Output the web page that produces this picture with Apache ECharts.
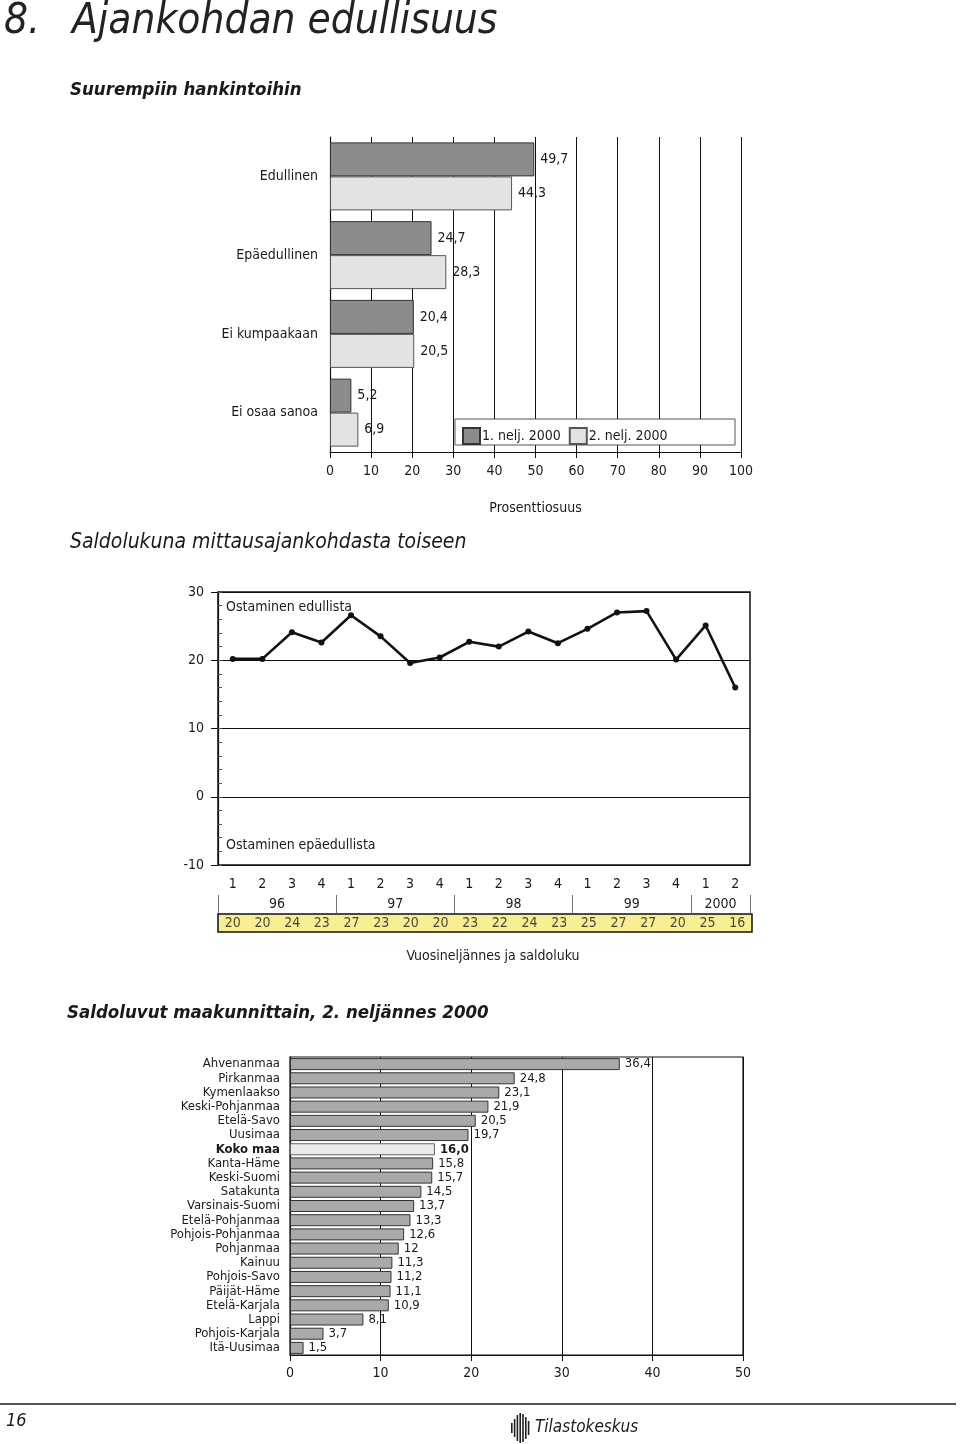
<!DOCTYPE html>
<html>
<head>
<meta charset="utf-8">
<script src="https://cdn.jsdelivr.net/npm/echarts@6/dist/echarts.min.js"></script>
<style>
html,body{margin:0;padding:0;background:#fff;}
#main{width:960px;height:1444px;}
</style>
</head>
<body>
<div id="main"></div>
<script>
// ---- Chart 1: Suurempiin hankintoihin ----
const answerCategories = ['Edullinen', 'Epäedullinen', 'Ei kumpaakaan', 'Ei osaa sanoa'];
const q1Values = [49.7, 24.7, 20.4, 5.2];
const q2Values = [44.3, 28.3, 20.5, 6.9];
const seriesNames = ['1. nelj. 2000', '2. nelj. 2000'];

// ---- Chart 2: Saldolukuna ----
const quarterLabels = ['1','2','3','4','1','2','3','4','1','2','3','4','1','2','3','4','1','2'];
const saldoLine = [20.2, 20.2, 24.1, 22.6, 26.6, 23.5, 19.6, 20.4, 22.7, 22.0, 24.2, 22.5, 24.6, 27.0, 27.2, 20.1, 25.1, 16.0];
const saldoTable = [20, 20, 24, 23, 27, 23, 20, 20, 23, 22, 24, 23, 25, 27, 27, 20, 25, 16];
const yearLabels = ['96', '97', '98', '99', '2000'];
const yearCenters = [2, 6, 10, 14, 17];
const yearBounds = [0, 4, 8, 12, 16, 18];

// ---- Chart 3: Saldoluvut maakunnittain ----
const regions = ['Ahvenanmaa','Pirkanmaa','Kymenlaakso','Keski-Pohjanmaa','Etelä-Savo','Uusimaa','Koko maa','Kanta-Häme','Keski-Suomi','Satakunta','Varsinais-Suomi','Etelä-Pohjanmaa','Pohjois-Pohjanmaa','Pohjanmaa','Kainuu','Pohjois-Savo','Päijät-Häme','Etelä-Karjala','Lappi','Pohjois-Karjala','Itä-Uusimaa'];
const regionValues = [36.4, 24.8, 23.1, 21.9, 20.5, 19.7, 16.0, 15.8, 15.7, 14.5, 13.7, 13.3, 12.6, 12, 11.3, 11.2, 11.1, 10.9, 8.1, 3.7, 1.5];

const FONT = "'Liberation Sans Narrow','DejaVu Sans Condensed',sans-serif";
const TXT = '#1a1a1a';
const fmt = v => String(v).replace('.', ',');

const chart = echarts.init(document.getElementById('main'), null, {renderer: 'canvas'});

function txt(text, x, y, size, opts) {
  opts = opts || {};
  return {
    type: 'text', x: x, y: y, z: opts.z || 5,
    style: {
      text: text, fontSize: size, fontFamily: FONT,
      fontWeight: opts.weight || 'normal', fontStyle: opts.style || 'normal',
      fill: opts.fill || TXT, align: opts.align || 'left', verticalAlign: 'middle'
    }
  };
}

// simple logo stripes
const logoStripes = [];
const stripeH = [10, 18, 26, 30, 28, 22, 14];
stripeH.forEach((h, i) => {
  logoStripes.push({type: 'rect', shape: {x: 511 + i * 2.8, y: 1428 - h / 2, width: 1.6, height: h}, style: {fill: '#222'}, z: 5});
});

const option = {
  backgroundColor: '#fff',
  animation: false,
  textStyle: {fontFamily: FONT, color: TXT},
  graphic: [
    txt('8.', 4, 22, 42, {style: 'italic', weight: 'lighter', fill: '#222'}),
    txt('Ajankohdan edullisuus', 72, 22, 42, {style: 'italic', weight: 'lighter', fill: '#222'}),
    txt('Suurempiin hankintoihin', 70, 90, 18.5, {style: 'italic', weight: 'bold'}),
    txt('Saldolukuna mittausajankohdasta toiseen', 70, 543, 21, {style: 'italic'}),
    txt('Saldoluvut maakunnittain, 2. neljännes 2000', 67, 1013, 18.5, {style: 'italic', weight: 'bold'}),
    txt('Ostaminen edullista', 226, 607, 14),
    txt('Ostaminen epäedullista', 226, 845, 14),
    txt('Vuosineljännes ja saldoluku', 493, 956, 14, {align: 'center'}),
    {type: 'rect', z: 3, shape: {x: 455, y: 419, width: 280, height: 26}, style: {fill: '#fff', stroke: '#555', lineWidth: 1}},
    {type: 'line', z: 5, shape: {x1: 0, y1: 1404, x2: 956, y2: 1404}, style: {stroke: '#555', lineWidth: 2}},
    txt('16', 6, 1421, 18, {style: 'italic'}),
    txt('Tilastokeskus', 535, 1428, 17, {style: 'italic'})
  ].concat(logoStripes),
  legend: {
    z: 6,
    left: 457, top: 422,
    itemWidth: 17, itemHeight: 16, itemGap: 8,
    icon: 'rect',
    data: seriesNames,
    textStyle: {fontSize: 14, fontFamily: FONT, color: TXT, padding: [0, 0, 0, -3]}
  },
  grid: [
    {left: 330, right: 219, top: 137, bottom: 992},
    {left: 218, right: 210, top: 592, bottom: 579, show: true, borderColor: '#111', borderWidth: 1.5, backgroundColor: 'transparent'},
    {left: 218, right: 208, top: 914, bottom: 512, show: true, borderColor: '#111', borderWidth: 1.5, backgroundColor: '#f8ee92'},
    {left: 290, right: 217, top: 1057, bottom: 89, show: true, borderColor: '#111', borderWidth: 1.2, backgroundColor: 'transparent'}
  ],
  xAxis: [
    {
      gridIndex: 0, type: 'value', min: 0, max: 100, interval: 10,
      name: 'Prosenttiosuus', nameLocation: 'middle', nameGap: 49,
      nameTextStyle: {fontSize: 14, fontFamily: FONT, color: TXT},
      axisLine: {show: true, onZero: false, lineStyle: {color: '#111', width: 1.2}},
      axisTick: {show: true, length: 6, lineStyle: {color: '#111'}},
      axisLabel: {fontSize: 14, fontFamily: FONT, color: TXT, margin: 12},
      splitLine: {show: true, lineStyle: {color: '#111', width: 1}}
    },
    {
      gridIndex: 1, type: 'category', data: quarterLabels, boundaryGap: true,
      axisLine: {show: false, onZero: false}, axisTick: {show: false},
      axisLabel: {fontSize: 14, fontFamily: FONT, color: TXT, margin: 12, interval: 0},
      splitLine: {show: false}
    },
    {
      gridIndex: 1, type: 'value', min: 0, max: 18, position: 'bottom', offset: 30,
      axisLine: {show: false, onZero: false},
      axisTick: {show: true, customValues: yearBounds, length: 18, lineStyle: {color: '#777', width: 1}},
      axisLabel: {show: true, customValues: yearCenters, fontSize: 14, fontFamily: FONT, color: TXT, margin: 2,
        formatter: v => yearLabels[yearCenters.indexOf(v)]},
      splitLine: {show: false}
    },
    {
      gridIndex: 2, type: 'category', data: quarterLabels, boundaryGap: true, show: false
    },
    {
      gridIndex: 3, type: 'value', min: 0, max: 50, interval: 10,
      axisLine: {show: true, onZero: false, lineStyle: {color: '#111', width: 1.2}},
      axisTick: {show: true, length: 6, lineStyle: {color: '#111'}},
      axisLabel: {fontSize: 14, fontFamily: FONT, color: TXT, margin: 11},
      splitLine: {show: true, lineStyle: {color: '#111', width: 1}}
    }
  ],
  yAxis: [
    {
      gridIndex: 0, type: 'category', data: answerCategories, inverse: true,
      axisLine: {show: true, lineStyle: {color: '#111', width: 1.2}},
      axisTick: {show: false},
      axisLabel: {fontSize: 14, fontFamily: FONT, color: TXT, margin: 12}
    },
    {
      gridIndex: 1, type: 'value', min: -10, max: 30, interval: 10,
      axisLine: {show: true, lineStyle: {color: '#111', width: 1.2}},
      axisTick: {show: true, length: 7, lineStyle: {color: '#111'}},
      axisLabel: {fontSize: 14, fontFamily: FONT, color: TXT, margin: 14},
      splitLine: {show: true, lineStyle: {color: '#111', width: 1.2}}
    },
    {
      gridIndex: 1, type: 'value', min: -10, max: 30, interval: 2, position: 'left',
      axisLine: {show: false},
      axisTick: {show: true, inside: true, length: 4, lineStyle: {color: '#555'}},
      axisLabel: {show: false},
      splitLine: {show: false}
    },
    {
      gridIndex: 2, type: 'category', data: ['saldo'], show: false
    },
    {
      gridIndex: 3, type: 'category', data: regions, inverse: true,
      axisLine: {show: true, lineStyle: {color: '#111', width: 1.2}},
      axisTick: {show: false},
      axisLabel: {
        fontSize: 13, fontFamily: FONT, color: TXT, margin: 10, interval: 0,
        formatter: v => v === 'Koko maa' ? '{b|' + v + '}' : v,
        rich: {b: {fontSize: 13, fontFamily: FONT, fontWeight: 'bold', color: TXT}}
      }
    }
  ],
  series: [
    {
      name: seriesNames[0], type: 'bar', xAxisIndex: 0, yAxisIndex: 0,
      data: q1Values, barWidth: 34, barGap: '0%',
      itemStyle: {color: '#8c8c8c', borderColor: '#333', borderWidth: 1},
      label: {show: true, position: 'right', distance: 6, fontSize: 14, fontFamily: FONT, color: TXT, formatter: p => fmt(p.value)}
    },
    {
      name: seriesNames[1], type: 'bar', xAxisIndex: 0, yAxisIndex: 0,
      data: q2Values, barWidth: 34, barGap: '0%',
      itemStyle: {color: '#e3e3e3', borderColor: '#555', borderWidth: 1},
      label: {show: true, position: 'right', distance: 6, fontSize: 14, fontFamily: FONT, color: TXT, formatter: p => fmt(p.value)}
    },
    {
      name: 'Saldo', type: 'line', xAxisIndex: 1, yAxisIndex: 1,
      data: saldoLine, symbol: 'circle', symbolSize: 6,
      lineStyle: {color: '#111', width: 2.6},
      itemStyle: {color: '#111'}
    },
    {
      name: 'Saldotaulu', type: 'scatter', xAxisIndex: 3, yAxisIndex: 3,
      data: saldoTable.map((v, i) => [i, 0, v]), symbolSize: 0,
      label: {show: true, position: 'inside', fontSize: 14, fontFamily: FONT, color: TXT, formatter: p => String(p.value[2])}
    },
    {
      name: 'Maakunnat', type: 'bar', xAxisIndex: 4, yAxisIndex: 4,
      data: regionValues.map((v, i) => regions[i] === 'Koko maa'
        ? {value: v, itemStyle: {color: '#ebebeb', borderColor: '#666'}, label: {fontWeight: 'bold'}}
        : v),
      barWidth: 12,
      itemStyle: {color: '#a9a9a9', borderColor: '#333', borderWidth: 1},
      label: {show: true, position: 'right', distance: 5, fontSize: 13, fontFamily: FONT, color: TXT,
        formatter: p => regions[p.dataIndex] === 'Koko maa' ? p.value.toFixed(1).replace('.', ',') : fmt(p.value)}
    }
  ]
};
chart.setOption(option);
</script>
</body>
</html>
